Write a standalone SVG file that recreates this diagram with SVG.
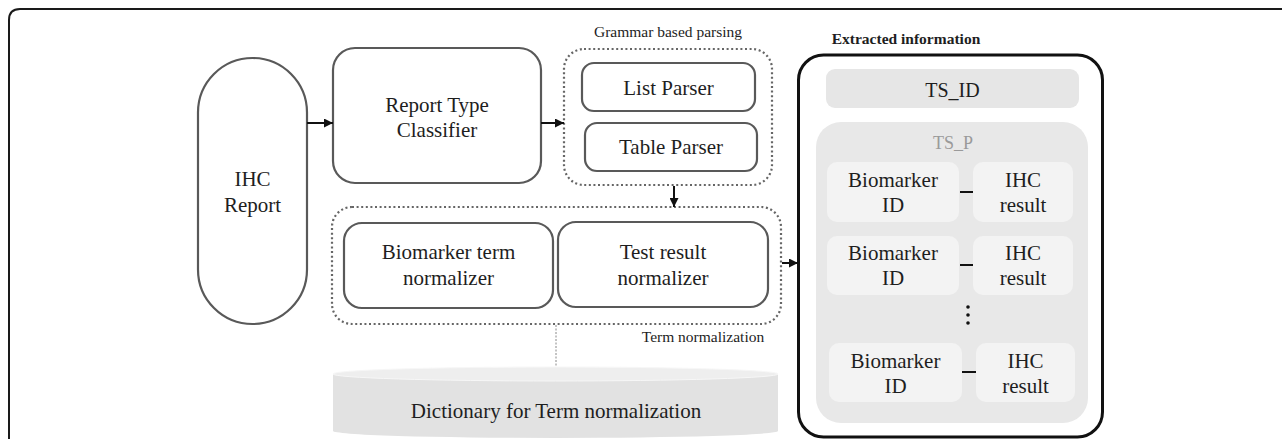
<svg xmlns="http://www.w3.org/2000/svg" width="1282" height="439" viewBox="0 0 1282 439">
<style>
text{font-family:'Liberation Serif','Times New Roman',serif;fill:#1e1e1e;text-anchor:middle}
.t21{font-size:21px}
.lbl{font-size:15.5px}
.node{fill:#fff;stroke:#595959;stroke-width:2.2}
.dot{fill:none;stroke:#666;stroke-width:2.2;stroke-dasharray:2 2.6}
.conn{stroke:#111;stroke-width:2;fill:none}
.cell{fill:#f3f3f3}
.dash{stroke:#111;stroke-width:2}
</style>
<defs>
<marker id="ah" viewBox="0 0 10 10" refX="10" refY="5" markerWidth="4.5" markerHeight="4.5" orient="auto" markerUnits="strokeWidth">
<path d="M0,0 L10,5 L0,10 z" fill="#111"/>
</marker>
</defs>
<rect width="1282" height="439" fill="#fff"/>
<path d="M9,439 V20 Q9,9 20,9 H1282" fill="none" stroke="#1a1a1a" stroke-width="2"/>

<g id="ihc-report">
<rect class="node" x="198" y="58" width="109" height="266" rx="54.5"/>
<text class="t21" x="252.5" y="186">IHC</text>
<text class="t21" x="252.5" y="212">Report</text>
</g>

<g id="report-type-classifier">
<rect class="node" x="333" y="48" width="208" height="135" rx="22"/>
<text class="t21" x="437" y="112">Report Type</text>
<text class="t21" x="437" y="137">Classifier</text>
</g>

<g id="grammar-parsing">
<text class="lbl" x="668" y="37">Grammar based parsing</text>
<rect class="dot" x="564" y="49" width="208" height="136" rx="20"/>
<g id="list-parser">
<rect class="node" x="582" y="63" width="173" height="48" rx="12"/>
<text class="t21" x="668.5" y="95">List Parser</text>
</g>
<g id="table-parser">
<rect class="node" x="585" y="123" width="172" height="48" rx="12"/>
<text class="t21" x="671" y="154">Table Parser</text>
</g>
</g>

<g id="term-normalization">
<rect class="dot" x="332" y="207" width="449" height="117" rx="20"/>
<text class="lbl" x="703" y="342">Term normalization</text>
<g id="biomarker-term-normalizer">
<rect class="node" x="344" y="223" width="209" height="85" rx="18"/>
<text class="t21" x="448.5" y="259">Biomarker term</text>
<text class="t21" x="448.5" y="285">normalizer</text>
</g>
<g id="test-result-normalizer">
<rect class="node" x="558" y="222" width="210" height="85" rx="18"/>
<text class="t21" x="663" y="259">Test result</text>
<text class="t21" x="663" y="285">normalizer</text>
</g>
</g>

<g id="dictionary">
<path d="M333,374 V431 A222.5,7 0 0 0 778,431 V374 Z" fill="#e2e2e2"/>
<ellipse cx="555.5" cy="374" rx="222.5" ry="7" fill="#eeeeee" stroke="#f7f7f7" stroke-width="1"/>
<text class="t21" x="556" y="418">Dictionary for Term normalization</text>
</g>

<g id="extracted-information">
<text x="906" y="44" style="font-size:15.5px;font-weight:bold">Extracted information</text>
<rect x="798.5" y="55" width="304" height="382" rx="25" fill="#fff" stroke="#111" stroke-width="3"/>
<g id="ts-id">
<rect x="826" y="69" width="253" height="39" rx="9" fill="#e6e6e6"/>
<text x="952.5" y="97" style="font-size:20px">TS_ID</text>
</g>
<g id="ts-p">
<rect x="816" y="122" width="272" height="301" rx="25" fill="#e8e8e8"/>
<text x="953" y="149" style="font-size:18px;fill:#9a9a9a">TS_P</text>
</g>
<g id="row1">
<rect class="cell" x="827" y="162" width="132" height="60" rx="10"/>
<text class="t21" x="893" y="187">Biomarker</text>
<text class="t21" x="893" y="212">ID</text>
<line class="dash" x1="960" y1="192" x2="973" y2="192"/>
<rect class="cell" x="973" y="162" width="100" height="60" rx="10"/>
<text class="t21" x="1023" y="187">IHC</text>
<text class="t21" x="1023" y="212">result</text>
</g>
<g id="row2">
<rect class="cell" x="827" y="236" width="132" height="59" rx="10"/>
<text class="t21" x="893" y="260">Biomarker</text>
<text class="t21" x="893" y="285">ID</text>
<line class="dash" x1="960" y1="265" x2="973" y2="265"/>
<rect class="cell" x="973" y="236" width="100" height="59" rx="10"/>
<text class="t21" x="1023" y="260">IHC</text>
<text class="t21" x="1023" y="285">result</text>
</g>
<g id="ellipsis" fill="#111">
<circle cx="968" cy="307" r="1.8"/>
<circle cx="968" cy="315" r="1.8"/>
<circle cx="968" cy="323" r="1.8"/>
</g>
<g id="row3">
<rect class="cell" x="829" y="343" width="133" height="59" rx="10"/>
<text class="t21" x="895.5" y="368">Biomarker</text>
<text class="t21" x="895.5" y="393">ID</text>
<line class="dash" x1="962" y1="372" x2="976" y2="372"/>
<rect class="cell" x="976" y="343" width="99" height="59" rx="10"/>
<text class="t21" x="1025.5" y="368">IHC</text>
<text class="t21" x="1025.5" y="393">result</text>
</g>
</g>

<g id="connectors">
<line class="conn" x1="307" y1="123" x2="333" y2="123" marker-end="url(#ah)"/>
<line class="conn" x1="541" y1="123" x2="564" y2="123" marker-end="url(#ah)"/>
<line class="conn" x1="674" y1="186" x2="674" y2="207" marker-end="url(#ah)"/>
<line class="conn" x1="782" y1="263" x2="798" y2="263" marker-end="url(#ah)"/>
<line x1="556" y1="325" x2="556" y2="367" stroke="#888" stroke-width="1" stroke-dasharray="2 1.5"/>
</g>
</svg>
